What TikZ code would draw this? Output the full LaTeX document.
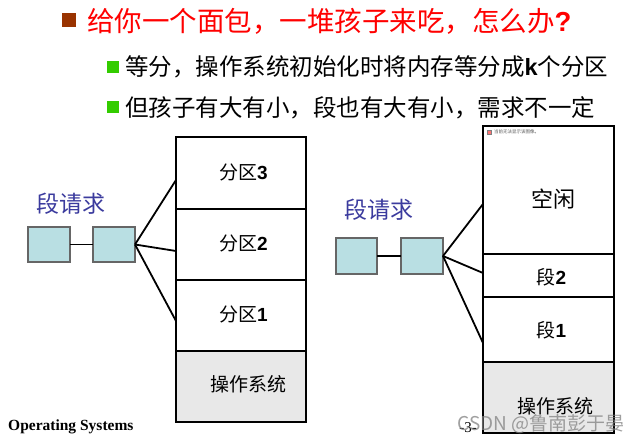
\documentclass[tikz,border=0pt]{standalone}
\usepackage{fontspec}
\newfontfamily\cjk{Noto Sans CJK SC}
\newfontfamily\arialf{Liberation Sans}
\newfontfamily\tnr{Liberation Serif}
\definecolor{titlered}{HTML}{FF0000}
\definecolor{bulletbrown}{HTML}{993300}
\definecolor{bulletgreen}{HTML}{33CC00}
\definecolor{reqblue}{HTML}{3B3B9E}
\definecolor{boxcyan}{HTML}{B9DFE3}
\definecolor{boxborder}{HTML}{666666}
\definecolor{osgray}{HTML}{E8E8E8}
\tikzset{
  cell/.style={draw=black, line width=2pt, minimum width=130pt, inner sep=0pt, outer sep=0pt},
  cellr/.style={cell, minimum width=131pt},
  reqbox/.style={draw=boxborder, fill=boxcyan, line width=1.2pt, minimum width=42pt, minimum height=35pt, inner sep=0pt, outer sep=0pt},
  link/.style={line width=1.8pt, draw=black},
  lbl/.style={inner sep=0pt, font=\cjk\fontsize{19}{19}\selectfont},
  reqlbl/.style={inner sep=0pt, text=reqblue, font=\cjk\fontsize{23}{23}\selectfont},
  bigbullet/.style={fill=bulletbrown, minimum size=14pt, inner sep=0pt},
  smallbullet/.style={fill=bulletgreen, minimum size=12pt, inner sep=0pt},
  line2/.style={anchor=west, inner sep=0pt, font=\cjk\fontsize{23.5}{23.5}\selectfont}
}
\begin{document}
\begin{tikzpicture}[x=1pt,y=-1pt]
\useasboundingbox[fill=white] (0,0) rectangle (640,443);
% header
\node[bigbullet] (b0) at (68.5,20) {};
\node[anchor=west, inner sep=0pt, text=titlered, font=\cjk\fontsize{27.5}{27.5}\selectfont] (title) at (87,21.5) {给你一个面包，一堆孩子来吃，怎么办{\arialf\bfseries ?}};
\node[smallbullet] (b1) at (112.5,67) {};
\node[line2] (l1) at (125,67) {等分，操作系统初始化时将内存等分成{\arialf\bfseries k}个分区};
\node[smallbullet] (b2) at (112.5,107.5) {};
\node[line2] (l2) at (125,107.5) {但孩子有大有小，段也有大有小，需求不一定};
% footer text under the column
\node[inner sep=0pt, font=\tnr\fontsize{15}{15}\selectfont] (pg) at (468,428) {-3-};
\node[anchor=west, inner sep=0pt, font=\tnr\bfseries\fontsize{15.5}{15.5}\selectfont] (ostext) at (8,427) {Operating Systems};
% left diagram
\node[cell, minimum height=72pt] (p3) at (241,173) {};
\node[cell, minimum height=71pt] (p2) at (241,244.5) {};
\node[cell, minimum height=71pt] (p1) at (241,315.5) {};
\node[cell, fill=osgray, minimum height=71pt] (osl) at (241,386.5) {};
\node[lbl] (tp3) at (243.5,172) {分区{\arialf\bfseries 3}};
\node[lbl] (tp2) at (243.5,243) {分区{\arialf\bfseries 2}};
\node[lbl] (tp1) at (243.5,314) {分区{\arialf\bfseries 1}};
\node[lbl] (tosl) at (248,384) {操作系统};
\node[reqlbl] (reql) at (71,204) {段请求};
\node[reqbox] (r1) at (49,244.5) {};
\node[reqbox] (r2) at (114,244.5) {};
\draw[link] (r1) -- (r2);
\draw[link] (r2.east) -- ([yshift=-7pt]p3.west);
\draw[link] (r2.east) -- ([yshift=-6.5pt]p2.west);
\draw[link] (r2.east) -- ([yshift=-5.5pt]p1.west);
% right diagram
\node[cellr, minimum height=128pt] (free) at (548.5,190) {};
\node[cellr, minimum height=43pt] (s2) at (548.5,275.5) {};
\node[cellr, minimum height=65pt] (s1) at (548.5,329.5) {};
\node[cellr, fill=osgray, minimum height=71pt] (osr) at (548.5,397.5) {};
\node[draw=gray, fill=red!55, line width=0.3pt, minimum size=4pt, inner sep=0pt] (icon) at (489,132) {};
\node[anchor=west, inner sep=0pt, text=gray!70!black, font=\cjk\fontsize{4.5}{4.5}\selectfont] (ph) at (494,132) {当前无法显示该图像。};
\node[lbl, font=\cjk\fontsize{22}{22}\selectfont] (tfree) at (553,199) {空闲};
\node[lbl] (ts2) at (551.5,277) {段{\arialf\bfseries 2}};
\node[lbl] (ts1) at (551.5,330) {段{\arialf\bfseries 1}};
\node[lbl] (tosr) at (555.5,406) {操作系统};
\node[reqlbl] (reqr) at (379,210) {段请求};
\node[reqbox, minimum width=41pt, minimum height=36pt] (q1) at (356.5,256) {};
\node[reqbox, minimum width=42pt, minimum height=36pt] (q2) at (422,256) {};
\draw[link] (q1) -- (q2);
\draw[link] (q2.east) -- ([yshift=-14pt]free.west);
\draw[link] (q2.east) -- ([yshift=2.5pt]s2.west);
\draw[link] (q2.east) -- ([yshift=-13.5pt]s1.west);
% watermark
\node[inner sep=0pt, text=gray, opacity=0.75, font=\cjk\fontsize{19}{19}\selectfont] (wm) at (541,424.5) {CSDN @鲁南彭于晏};
\end{tikzpicture}
\end{document}
